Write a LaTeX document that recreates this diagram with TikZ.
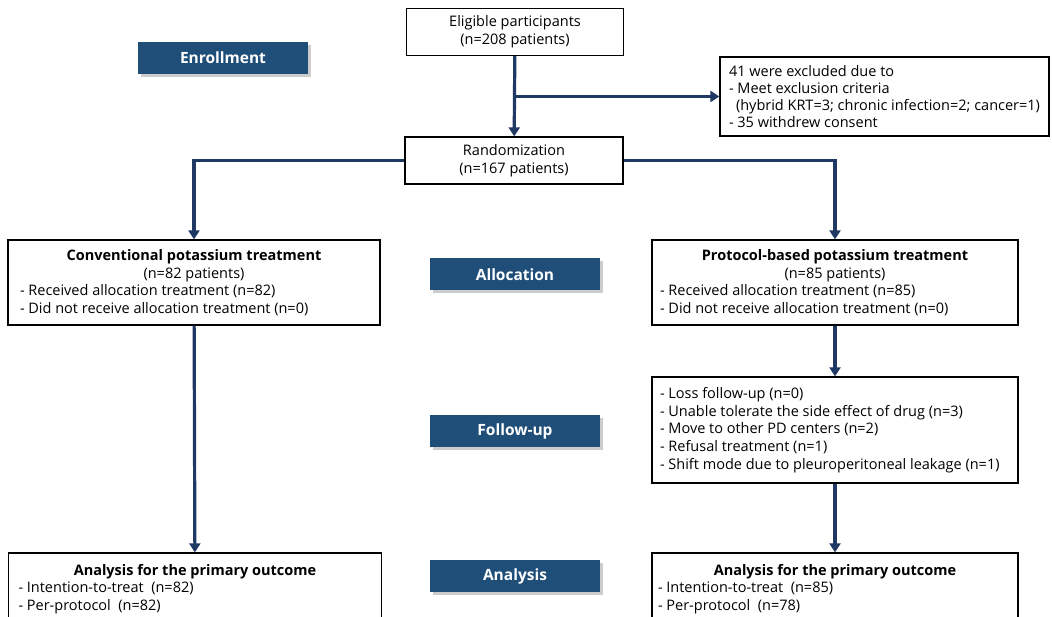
\documentclass[tikz,border=0pt]{standalone}
\usepackage{fontspec}
\setmainfont{Open Sans}
\usetikzlibrary{arrows.meta,shadows}
\definecolor{stageblue}{HTML}{1F4E79}
\definecolor{arrowblue}{HTML}{1F3864}
\tikzset{
  box/.style={draw=black, line width=1.3pt, fill=white, inner sep=0pt,
    font=\fontsize{14.5}{17.6}\selectfont},
  stage/.style={fill=stageblue, text=white, minimum width=170pt, minimum height=32pt,
    font=\fontsize{15.5}{18}\selectfont\bfseries,
    drop shadow={opacity=0.4, shadow xshift=3pt, shadow yshift=-3pt}},
  flow/.style={draw=arrowblue, line width=3.2pt, -{Triangle[width=11pt,length=9pt]}},
}
\begin{document}
\begin{tikzpicture}[x=1pt,y=-1pt]
\useasboundingbox (0,0) rectangle (1052,617);
\fill[white] (0,0) rectangle (1052,617);

% stage labels
\node[stage] (senr) at (223,58) {Enrollment};
\node[stage] (salloc) at (515,274.5) {Allocation};
\node[stage] (sfol) at (515,431) {Follow-up};
\node[stage] (sana) at (515,576) {Analysis};

% boxes
\node[box, minimum width=217pt, minimum height=47pt, align=center] (elig) at (515,32)
  {Eligible participants\\(n=208 patients)};
\node[box, minimum width=218pt, minimum height=47pt, align=center] (rand) at (514,160.5)
  {Randomization\\(n=167 patients)};
\node[box, minimum width=329pt, minimum height=79pt, inner xsep=9pt,
      font=\fontsize{14.5}{16.8}\selectfont] (excl) at (884.5,96.5)
  {\parbox{311pt}{41 were excluded due to\\- Meet exclusion criteria\\\hspace*{7pt}(hybrid KRT=3; chronic infection=2; cancer=1)\\- 35 withdrew consent}};
\node[box, minimum width=372pt, minimum height=85pt, inner xsep=12pt] (conv) at (194,282.5)
  {\parbox{348pt}{\centering\textbf{Conventional potassium treatment}\\(n=82 patients)\par\raggedright - Received allocation treatment (n=82)\\- Did not receive allocation treatment (n=0)}};
\node[box, minimum width=366pt, minimum height=85pt, inner xsep=8pt] (prot) at (835,282.5)
  {\parbox{350pt}{\centering\textbf{Protocol-based potassium treatment}\\(n=85 patients)\par\raggedright - Received allocation treatment (n=85)\\- Did not receive allocation treatment (n=0)}};
\node[box, minimum width=366pt, minimum height=106pt, inner xsep=8pt] (fol) at (835,430)
  {\parbox{350pt}{- Loss follow-up (n=0)\\- Unable tolerate the side effect of drug (n=3)\\- Move to other PD centers (n=2)\\- Refusal treatment (n=1)\\- Shift mode due to pleuroperitoneal leakage (n=1)}};
\node[box, minimum width=373pt, minimum height=72pt, inner xsep=10pt] (anl) at (195,589)
  {\parbox{353pt}{\centering\textbf{Analysis for the primary outcome}\par\raggedright - Intention-to-treat~ (n=82)\\- Per-protocol~ (n=82)}};
\node[box, minimum width=366pt, minimum height=72pt, inner xsep=6pt] (anr) at (835,589)
  {\parbox{354pt}{\centering\textbf{Analysis for the primary outcome}\par\raggedright - Intention-to-treat~ (n=85)\\- Per-protocol~ (n=78)}};

% connectors
\coordinate (br) at (elig.south |- excl.west);
\draw[flow] (elig) -- (rand);
\draw[flow] (br) -- (excl.west);
\draw[flow] (rand.west) -| (conv.north);
\draw[flow] (rand.east) -| (prot.north);
\draw[flow] (conv) -- (anl);
\draw[flow] (prot) -- (fol);
\draw[flow] (fol) -- (anr);
\end{tikzpicture}
\end{document}
